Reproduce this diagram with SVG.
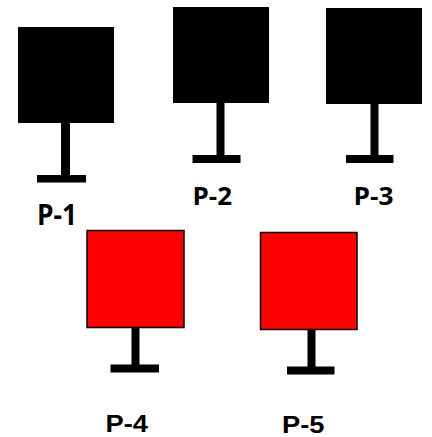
<svg xmlns="http://www.w3.org/2000/svg" width="432" height="437" viewBox="0 0 432 437">
<style>
.blk{fill:#000}
.red{fill:#ff0000;stroke:#000;stroke-width:1.5}
.lbl1{font-family:"Open Sans","Liberation Sans",sans-serif;font-weight:700;font-size:28px;fill:#000}
.lbl1s{font-size:25.5px}
.lbl2{font-family:"Liberation Sans",Arial,sans-serif;font-weight:700;font-size:23px;fill:#000}
</style>
<rect width="432" height="437" fill="#fff"/>
<g id="P-1">
<rect class="blk" x="18" y="27" width="96" height="96"/>
<rect class="blk" x="61" y="123" width="9" height="55"/>
<rect class="blk" x="37" y="175" width="49" height="7.5"/>
<text class="lbl1" x="37" y="225" textLength="40" lengthAdjust="spacingAndGlyphs">P-1</text>
</g>
<g id="P-2">
<rect class="blk" x="173" y="7" width="96" height="96"/>
<rect class="blk" x="216.5" y="103" width="8" height="55"/>
<rect class="blk" x="192.5" y="155" width="48" height="8"/>
<text class="lbl1 lbl1s" x="192.5" y="205" textLength="39.5" lengthAdjust="spacingAndGlyphs">P-2</text>
</g>
<g id="P-3">
<rect class="blk" x="326" y="8" width="96" height="96"/>
<rect class="blk" x="370.5" y="104" width="8" height="54"/>
<rect class="blk" x="346" y="155" width="47.5" height="8"/>
<text class="lbl1 lbl1s" x="353.5" y="205" textLength="40" lengthAdjust="spacingAndGlyphs">P-3</text>
</g>
<g id="P-4">
<rect class="red" x="87" y="230.5" width="97" height="97"/>
<rect class="blk" x="131.5" y="327.5" width="8" height="40"/>
<rect class="blk" x="110.5" y="364.5" width="48.5" height="8"/>
<text class="lbl2" x="105.5" y="431.5" textLength="42.5" lengthAdjust="spacingAndGlyphs">P-4</text>
</g>
<g id="P-5">
<rect class="red" x="260.5" y="232.5" width="96.5" height="97"/>
<rect class="blk" x="307.5" y="329.5" width="8" height="40"/>
<rect class="blk" x="287" y="366.5" width="47.5" height="8"/>
<text class="lbl2" x="282" y="432.5" textLength="42.5" lengthAdjust="spacingAndGlyphs">P-5</text>
</g>
<g id="connectors"/>
</svg>
